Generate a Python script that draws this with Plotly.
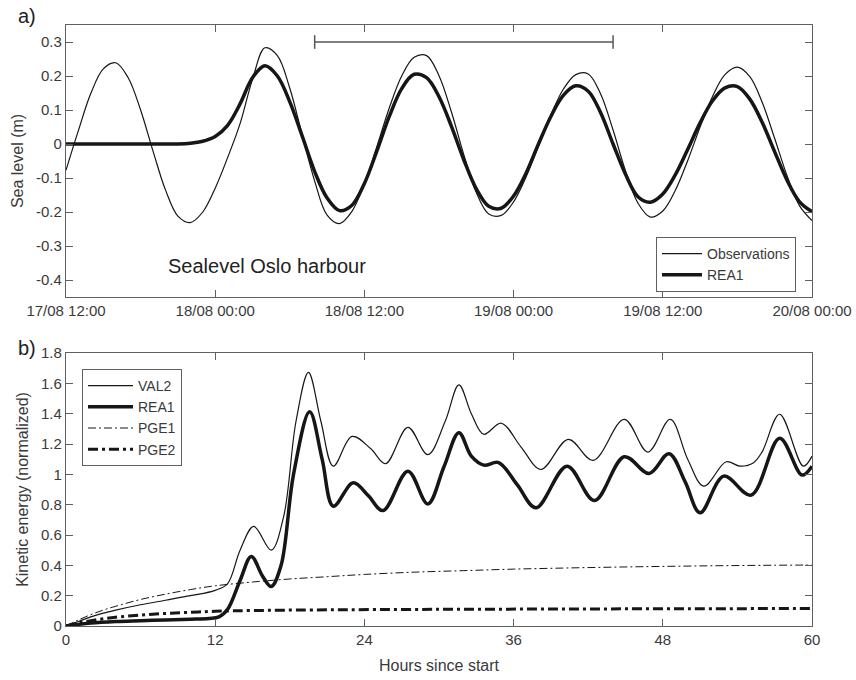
import plotly.graph_objects as go

# ---------------- Panel a) sea level ----------------
hours_a = list(range(0, 61))
obs_level = [-0.077, 0.040, 0.149, 0.221, 0.239, 0.195, 0.100, -0.021, -0.135, -0.212,
             -0.231, -0.200, -0.130, -0.040, 0.060, 0.190, 0.283, 0.260, 0.164, 0.026,
             -0.109, -0.209, -0.234, -0.198, -0.117, -0.008, 0.106, 0.200, 0.255, 0.260,
             0.201, 0.094, -0.032, -0.143, -0.206, -0.210, -0.170, -0.097, -0.006, 0.086,
             0.161, 0.204, 0.206, 0.147, 0.041, -0.079, -0.174, -0.215, -0.197, -0.137,
             -0.049, 0.050, 0.140, 0.204, 0.226, 0.198, 0.122, 0.016, -0.094, -0.182,
             -0.225]
rea1_level = [0.0, 0.0, 0.0, 0.0, 0.0, 0.0, 0.0, 0.0, 0.0, 0.0,
              0.002, 0.008, 0.022, 0.055, 0.118, 0.195, 0.230, 0.200, 0.124, 0.023,
              -0.081, -0.159, -0.196, -0.180, -0.116, -0.021, 0.081, 0.163, 0.205, 0.195,
              0.139, 0.052, -0.047, -0.132, -0.183, -0.189, -0.153, -0.086, 0.0, 0.081,
              0.143, 0.171, 0.155, 0.092, 0.0, -0.089, -0.155, -0.171, -0.147, -0.091,
              -0.016, 0.062, 0.127, 0.165, 0.169, 0.132, 0.063, -0.023, -0.107, -0.170,
              -0.199]
date_tickvals = [0, 12, 24, 36, 48, 60]
date_ticktext = ["17/08 12:00", "18/08 00:00", "18/08 12:00", "19/08 00:00",
                 "19/08 12:00", "20/08 00:00"]
level_tickvals = [-0.4, -0.3, -0.2, -0.1, 0, 0.1, 0.2, 0.3]
level_ticktext = ["-0.4", "-0.3", "-0.2", "-0.1", "0", "0.1", "0.2", "0.3"]
interval_hours = [20, 44]
interval_level = 0.3

# ---------------- Panel b) kinetic energy ----------------
val2_h = [0, 1, 2, 3, 4, 6, 8, 10, 12, 13, 14, 15.1, 16.5, 17.5, 18.5, 19.5, 20.5, 21.5,
          23.0, 24.5, 25.7, 27.5, 29.1, 30.5, 31.6, 32.6, 33.6, 35.0, 36.6, 38.2, 40.4,
          42.4, 44.9, 46.8, 48.6, 50.0, 51.3, 53.1, 54.2, 55.3, 56.0, 57.4, 59.3, 60]
val2_ke = [0, 0.03, 0.06, 0.085, 0.105, 0.14, 0.17, 0.20, 0.235, 0.28, 0.50, 0.657, 0.50,
           0.72, 1.35, 1.672, 1.35, 1.054, 1.25, 1.17, 1.07, 1.31, 1.13, 1.35, 1.59, 1.40,
           1.264, 1.337, 1.18, 1.032, 1.231, 1.092, 1.363, 1.147, 1.363, 1.10, 0.922, 1.083,
           1.054, 1.077, 1.15, 1.396, 1.054, 1.12]
rea1_h = [0, 2, 4, 6, 8, 10, 11.5, 12.3, 13, 14, 14.9, 15.8, 16.5, 17.3, 18.3, 19.6, 20.6,
          21.5, 23.1, 24.3, 25.5, 27.5, 29.1, 30.4, 31.6, 32.6, 33.6, 34.8, 36.3, 37.8,
          40.3, 42.5, 44.9, 46.9, 48.5, 49.8, 51.0, 52.9, 55.1, 57.4, 59.2, 60]
rea1_ke = [0, 0.02, 0.03, 0.035, 0.04, 0.045, 0.05, 0.06, 0.11, 0.30, 0.459, 0.33, 0.26,
           0.40, 1.0, 1.412, 1.10, 0.79, 0.944, 0.86, 0.761, 1.021, 0.805, 1.05, 1.275,
           1.12, 1.061, 1.077, 0.93, 0.779, 1.054, 0.827, 1.116, 1.006, 1.136, 0.95, 0.746,
           0.988, 0.863, 1.238, 0.995, 1.054]
pge1_h = [0, 1, 2, 3, 4, 6, 8, 10, 12, 15, 18, 21, 24, 28, 32, 36, 40, 44, 48, 52, 56, 60]
pge1_ke = [0, 0.04, 0.075, 0.105, 0.13, 0.175, 0.21, 0.24, 0.265, 0.29, 0.31, 0.325,
           0.34, 0.355, 0.365, 0.375, 0.382, 0.388, 0.393, 0.397, 0.40, 0.402]
pge2_h = [0, 1, 2, 3, 4, 6, 8, 10, 12, 15, 20, 30, 40, 50, 60]
pge2_ke = [0, 0.02, 0.035, 0.048, 0.058, 0.072, 0.083, 0.09, 0.097, 0.102, 0.106, 0.11,
           0.112, 0.114, 0.115]
hour_tickvals = [0, 12, 24, 36, 48, 60]
ke_tickvals = [0, 0.2, 0.4, 0.6, 0.8, 1.0, 1.2, 1.4, 1.6, 1.8]
ke_ticktext = ["0", "0.2", "0.4", "0.6", "0.8", "1", "1.2", "1.4", "1.6", "1.8"]

W, H = 856, 680
FONT = "Liberation Sans, Arial, Helvetica, sans-serif"
TXT = "#3a3a3a"
AX = "#606060"
LINE = "#161616"

fig = go.Figure()
fig.add_trace(go.Scatter(x=hours_a, y=obs_level, mode="lines", name="Observations",
                         line=dict(color=LINE, width=1.2, shape="spline"),
                         xaxis="x", yaxis="y", legend="legend"))
fig.add_trace(go.Scatter(x=hours_a, y=rea1_level, mode="lines", name="REA1",
                         line=dict(color=LINE, width=3.5, shape="spline"),
                         xaxis="x", yaxis="y", legend="legend"))

fig.add_trace(go.Scatter(x=val2_h, y=val2_ke, mode="lines", name="VAL2",
                         line=dict(color=LINE, width=1.2, shape="spline"),
                         xaxis="x2", yaxis="y2", legend="legend2"))
fig.add_trace(go.Scatter(x=rea1_h, y=rea1_ke, mode="lines", name="REA1",
                         line=dict(color=LINE, width=3.5, shape="spline"),
                         xaxis="x2", yaxis="y2", legend="legend2"))
fig.add_trace(go.Scatter(x=pge1_h, y=pge1_ke, mode="lines", name="PGE1",
                         line=dict(color=LINE, width=1, shape="spline", dash="8px,3px,2px,3px"),
                         xaxis="x2", yaxis="y2", legend="legend2"))
fig.add_trace(go.Scatter(x=pge2_h, y=pge2_ke, mode="lines", name="PGE2",
                         line=dict(color=LINE, width=3, shape="spline", dash="10px,4px,3px,4px"),
                         xaxis="x2", yaxis="y2", legend="legend2"))

# interval bar with end caps (panel a)
cap = 0.02
fig.add_shape(type="line", xref="x", yref="y", x0=interval_hours[0], x1=interval_hours[1],
              y0=interval_level, y1=interval_level, line=dict(color="#555", width=1.5))
for hx in interval_hours:
    fig.add_shape(type="line", xref="x", yref="y", x0=hx, x1=hx,
                  y0=interval_level - cap, y1=interval_level + cap,
                  line=dict(color="#555", width=1.5))

ax_common = dict(showline=True, linecolor=AX, linewidth=1.2, mirror="allticks",
                 ticks="inside", ticklen=7, tickcolor=AX, tickwidth=1,
                 showgrid=False, zeroline=False, automargin=False,
                 tickfont=dict(family=FONT, size=15, color=TXT))

x_dom = [66 / W, 812 / W]
fig.update_layout(
    width=W, height=H, autosize=False,
    margin=dict(l=0, r=0, t=0, b=0),
    paper_bgcolor="white", plot_bgcolor="white",
    font=dict(family=FONT, color=TXT),
    xaxis=dict(domain=x_dom, range=[0, 60], tickvals=date_tickvals, ticktext=date_ticktext,
               anchor="y", **ax_common),
    yaxis=dict(domain=[(H - 297) / H, (H - 25) / H], range=[-0.45, 0.35],
               tickvals=level_tickvals, ticktext=level_ticktext, anchor="x",
               title=dict(text="Sea level (m)", font=dict(family=FONT, size=16, color=TXT),
                          standoff=8),
               **ax_common),
    xaxis2=dict(domain=x_dom, range=[0, 60], tickvals=hour_tickvals, anchor="y2",
                title=dict(text="Hours since start", font=dict(family=FONT, size=16, color=TXT),
                           standoff=12),
                **ax_common),
    yaxis2=dict(domain=[(H - 626) / H, (H - 353) / H], range=[0, 1.8],
                tickvals=ke_tickvals, ticktext=ke_ticktext, anchor="x2",
                title=dict(text="Kinetic energy (normalized)",
                           font=dict(family=FONT, size=16, color=TXT), standoff=8),
                **ax_common),
    legend=dict(x=796 / W, xanchor="right", y=(H - 237) / H, yanchor="top",
                bgcolor="white", bordercolor=AX, borderwidth=1,
                font=dict(family=FONT, size=14, color=TXT),
                tracegroupgap=0, itemwidth=40),
    legend2=dict(x=82 / W, xanchor="left", y=(H - 369) / H, yanchor="top",
                 bgcolor="white", bordercolor=AX, borderwidth=1,
                 font=dict(family=FONT, size=14, color=TXT),
                 tracegroupgap=0, itemwidth=45),
    showlegend=True,
)

fig.add_annotation(text="Sealevel Oslo harbour", xref="paper", yref="paper",
                   x=166 / W, y=(H - 266) / H, xanchor="left", yanchor="middle",
                   showarrow=False, font=dict(family=FONT, size=20, color="#222"))
fig.add_annotation(text="a)", xref="paper", yref="paper", x=16 / W, y=(H - 16) / H,
                   xanchor="left", yanchor="middle", showarrow=False,
                   font=dict(family=FONT, size=20, color="#222"))
fig.add_annotation(text="b)", xref="paper", yref="paper", x=16 / W, y=(H - 348) / H,
                   xanchor="left", yanchor="middle", showarrow=False,
                   font=dict(family=FONT, size=20, color="#222"))

fig.write_html("out.html")
